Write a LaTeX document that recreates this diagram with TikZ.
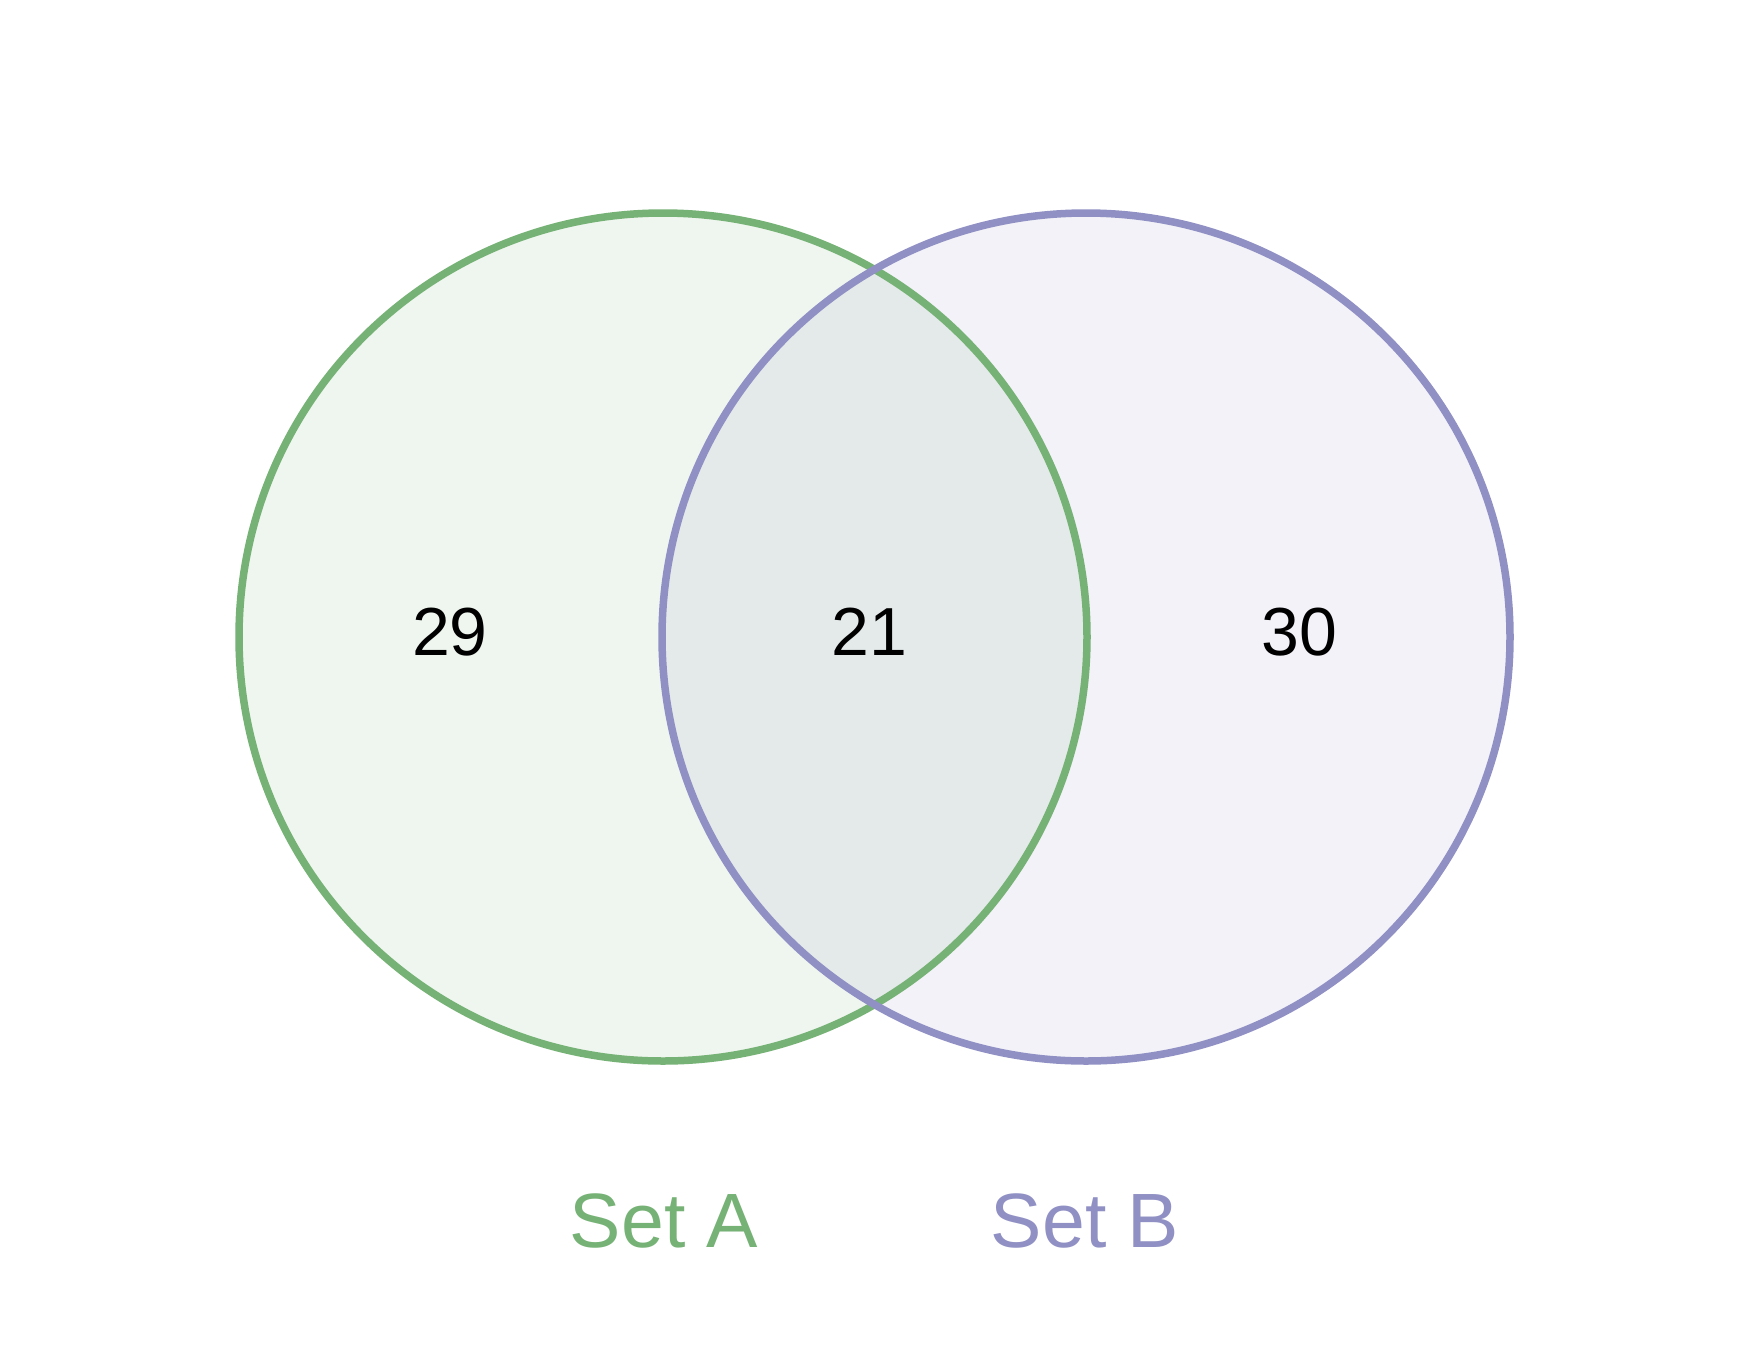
\documentclass[tikz,border=0pt]{standalone}
\usepackage{fontspec}
\setmainfont{Liberation Sans}
\definecolor{setA}{RGB}{118,178,118}
\definecolor{setB}{RGB}{144,144,196}
\begin{document}
\begin{tikzpicture}[x=1pt,y=-1pt,
  ring/.style={line width=7.5pt},
  count/.style={anchor=base,font=\fontsize{68}{80}\selectfont,text=black,inner sep=0pt},
  setlabel/.style={anchor=base,font=\fontsize{77}{90}\selectfont,inner sep=0pt}]
\useasboundingbox (0,0) rectangle (1748,1352);
\fill[white] (0,0) rectangle (1748,1352);
\coordinate (ca) at (663,637);
\coordinate (cb) at (1086,637);
\fill[setA,fill opacity=0.11] (ca) circle[radius=424];
\fill[setB,fill opacity=0.11] (cb) circle[radius=424];
\draw[ring,setA] (ca) circle[radius=424];
\draw[ring,setB] (cb) circle[radius=424];
\node[count] (n29) at (450,655) {29};
\node[count] (n21) at (869,655) {21};
\node[count] (n30) at (1299,655) {30};
\node[setlabel,text=setA] (la) at (664,1247) {Set A};
\node[setlabel,text=setB] (lb) at (1085,1247) {Set B};
\end{tikzpicture}
\end{document}
